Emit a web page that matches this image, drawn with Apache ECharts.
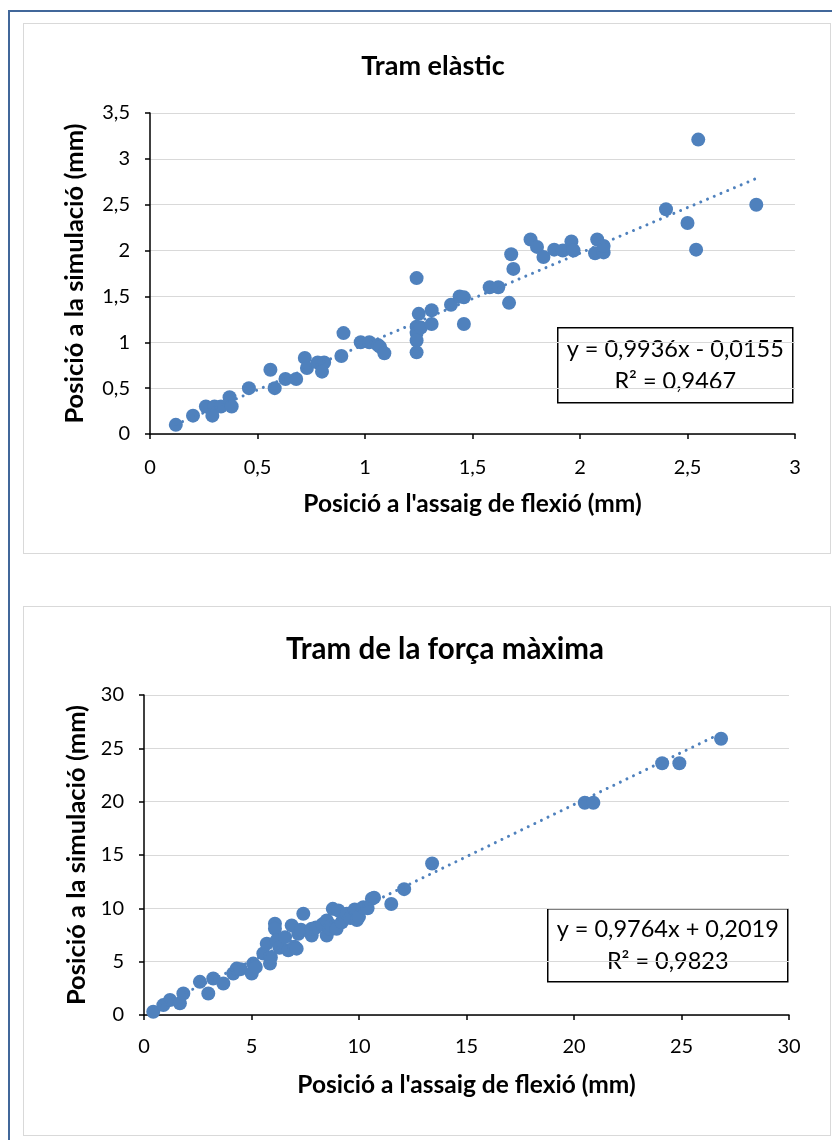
<!DOCTYPE html>
<html><head><meta charset="utf-8">
<script src="https://cdn.jsdelivr.net/npm/echarts@6/dist/echarts.min.js"></script>
<style>
html,body{margin:0;padding:0;background:#fff;}
#wrap{position:relative;width:832px;height:1140px;overflow:hidden;}
.outer{position:absolute;left:8px;top:10px;width:900px;height:1200px;border:2px solid #41679a;box-sizing:border-box;}
.box{position:absolute;border:1.5px solid #d9d9d9;box-sizing:border-box;background:#fff;}
#chart{position:absolute;left:0;top:0;width:832px;height:1140px;}
</style></head>
<body>
<div id="wrap">
  <div class="outer"></div>
  <div class="box" style="left:23px;top:23px;width:808px;height:531px;"></div>
  <div class="box" style="left:23px;top:606px;width:808px;height:530px;"></div>
  <div id="chart"></div>
</div>
<script>
// ---- data ----
const elasticTitle = 'Tram elàstic';
const maxForceTitle = 'Tram de la força màxima';
const xAxisTitle = "Posició a l'assaig de flexió (mm)";
const yAxisTitle = 'Posició a la simulació (mm)';

const elasticX = [0.12,0.20,0.26,0.30,0.33,0.29,0.37,0.38,0.46,0.56,0.58,0.63,0.68,0.72,0.73,0.78,0.81,0.80,0.89,0.90,0.98,1.02,1.06,1.07,1.09,1.24,1.25,1.24,1.24,1.24,1.24,1.26,1.31,1.31,1.40,1.44,1.46,1.46,1.58,1.62,1.67,1.68,1.69,1.77,1.80,1.83,1.88,1.92,1.96,1.97,2.07,2.08,2.11,2.11,2.40,2.50,2.54,2.55,2.82];
const elasticY = [0.10,0.20,0.30,0.30,0.30,0.20,0.40,0.30,0.50,0.70,0.50,0.60,0.60,0.83,0.72,0.78,0.78,0.68,0.85,1.10,1.00,1.00,0.97,0.95,0.88,1.70,1.31,1.17,1.10,1.02,0.89,1.16,1.35,1.20,1.41,1.50,1.49,1.20,1.60,1.60,1.43,1.96,1.80,2.12,2.04,1.93,2.01,2.00,2.10,2.00,1.97,2.12,1.98,2.05,2.45,2.30,2.01,3.21,2.50];

const maxForceX = [0.43,0.90,1.21,1.67,1.83,2.60,2.99,3.22,3.69,4.15,4.31,4.50,5.01,5.08,5.20,5.55,5.71,5.86,5.90,6.09,6.09,6.17,6.30,6.56,6.71,6.87,7.00,7.10,7.18,7.30,7.41,7.80,7.80,8.00,8.30,8.50,8.50,8.65,8.70,8.78,8.96,9.04,9.20,9.43,9.60,9.80,9.90,10.00,10.20,10.40,10.60,10.70,11.50,12.10,13.40,20.50,20.90,24.10,24.90,26.84];
const maxForceY = [0.31,0.93,1.40,1.09,2.02,3.11,2.02,3.42,2.96,3.89,4.35,4.30,3.89,4.82,4.50,5.76,6.69,4.82,5.40,8.55,8.09,7.00,6.30,7.30,6.06,8.40,6.40,6.22,7.62,8.00,9.49,7.46,8.09,8.20,8.50,8.86,7.46,8.09,8.40,9.95,8.09,9.80,8.70,9.50,9.10,9.90,8.90,9.20,10.10,10.00,10.90,11.00,10.40,11.80,14.20,19.90,19.90,23.60,23.60,25.90];

const elasticFit = [0.9936, -0.0155, 0.9467];   // slope, intercept, R²
const maxForceFit = [0.9764, 0.2019, 0.9823];

const elasticXTicks = [0, 3, 0.5];   // min, max, interval
const elasticYTicks = [0, 3.5, 0.5];
const maxForceXTicks = [0, 30, 5];
const maxForceYTicks = [0, 30, 5];

// ---- helpers ----
const BLUE = '#4f81bd';
const FONT = 'Lato, "Open Sans", sans-serif';
const comma = v => String(v).replace('.', ',');
const pairs = (xs, ys) => xs.map((x, i) => [x, ys[i]]);
const trend = (xs, fit) => {
  const lo = Math.min(...xs), hi = Math.max(...xs);
  return [[lo, fit[0]*lo + fit[1]], [hi, fit[0]*hi + fit[1]]];
};
const eqText = fit => {
  const sign = fit[1] < 0 ? ' - ' : ' + ';
  return 'y = ' + comma(fit[0].toFixed(4)) + 'x' + sign + comma(Math.abs(fit[1]).toFixed(4)) +
         '\nR² = ' + comma(fit[2].toFixed(4));
};

function xAxisOpt(idx, t, labelMargin, nameGap) {
  return {
    type: 'value', gridIndex: idx, min: t[0], max: t[1], interval: t[2],
    name: xAxisTitle, nameLocation: 'middle', nameGap: nameGap,
    nameTextStyle: {fontFamily: FONT, fontSize: 24.5, fontWeight: 'bold', color: '#000'},
    axisLine: {show: true, onZero: false, lineStyle: {color: '#000', width: 1.5}},
    axisTick: {show: true, inside: false, length: 5, lineStyle: {color: '#000', width: 1.5}},
    axisLabel: {fontFamily: FONT, fontSize: 20, color: '#000', margin: labelMargin, formatter: v => comma(v)},
    splitLine: {show: false}
  };
}
function yAxisOpt(idx, t, labelMargin, nameGap) {
  return {
    type: 'value', gridIndex: idx, min: t[0], max: t[1], interval: t[2],
    name: yAxisTitle, nameLocation: 'middle', nameGap: nameGap, nameRotate: 90,
    nameTextStyle: {fontFamily: FONT, fontSize: 25.5, fontWeight: 'bold', color: '#000'},
    axisLine: {show: true, onZero: false, lineStyle: {color: '#000', width: 1.5}},
    axisTick: {show: true, inside: false, length: 5, lineStyle: {color: '#000', width: 1.5}},
    axisLabel: {fontFamily: FONT, fontSize: 20, color: '#000', margin: labelMargin, formatter: v => comma(v)},
    splitLine: {show: true, lineStyle: {color: '#d9d9d9', width: 1.2}}
  };
}
const trendStyle = {color: BLUE, width: 3, type: [0.01, 7.3], cap: 'round'};

function eqBox(x, y, w, h, fit) {
  return {
    type: 'group', left: x, top: y, z: 100,
    children: [
      {type: 'rect', shape: {x: 0, y: 0, width: w, height: h}, style: {fill: '#fff', stroke: '#000', lineWidth: 1.5}},
      {type: 'text', x: w/2, y: h/2, style: {text: eqText(fit), fontFamily: FONT, fontSize: 23.5, fill: '#000',
        align: 'center', verticalAlign: 'middle', lineHeight: 32}}
    ]
  };
}

const chart = echarts.init(document.getElementById('chart'), null, {renderer: 'canvas'});
chart.setOption({
  backgroundColor: 'transparent',
  animation: false,
  title: [
    {text: elasticTitle, left: 428, top: 48, textAlign: 'center',
     textStyle: {fontFamily: FONT, fontSize: 27, fontWeight: 'bold', color: '#000'}},
    {text: maxForceTitle, left: 440, top: 629, textAlign: 'center',
     textStyle: {fontFamily: FONT, fontSize: 29.5, fontWeight: 'bold', color: '#000'}}
  ],
  grid: [
    {left: 150, top: 113, width: 645, height: 321, containLabel: false},
    {left: 144, top: 695, width: 645, height: 320, containLabel: false}
  ],
  xAxis: [xAxisOpt(0, elasticXTicks, 24, 58), xAxisOpt(1, maxForceXTicks, 22, 58)],
  yAxis: [yAxisOpt(0, elasticYTicks, 20, 62), yAxisOpt(1, maxForceYTicks, 20, 32)],
  series: [
    {type: 'line', xAxisIndex: 0, yAxisIndex: 0, data: trend(elasticX, elasticFit), symbol: 'none',
     lineStyle: trendStyle, z: 3, silent: true},
    {type: 'scatter', xAxisIndex: 0, yAxisIndex: 0, data: pairs(elasticX, elasticY), symbolSize: 14,
     itemStyle: {color: BLUE, opacity: 1}, z: 2},
    {type: 'line', xAxisIndex: 1, yAxisIndex: 1, data: trend(maxForceX, maxForceFit), symbol: 'none',
     lineStyle: trendStyle, z: 3, silent: true},
    {type: 'scatter', xAxisIndex: 1, yAxisIndex: 1, data: pairs(maxForceX, maxForceY), symbolSize: 14,
     itemStyle: {color: BLUE, opacity: 1}, z: 2}
  ],
  graphic: [
    eqBox(557, 327, 235, 75, elasticFit),
    eqBox(547, 908, 240, 73, maxForceFit)
  ]
});
</script>
</body></html>
